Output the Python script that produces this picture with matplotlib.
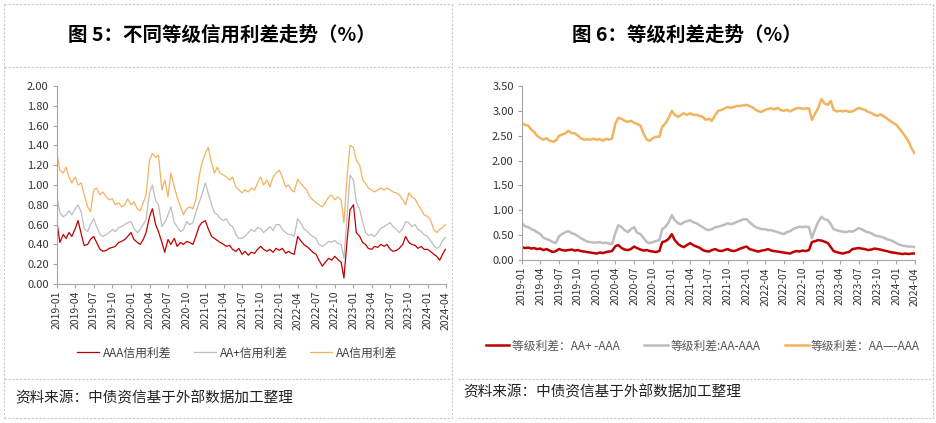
import pandas as pd
import matplotlib
matplotlib.use("Agg")
import matplotlib.pyplot as plt
import matplotlib.dates as mdates
from matplotlib.lines import Line2D

plt.rcParams['font.family'] = ['Noto Sans CJK SC', 'DejaVu Sans']

# semi-monthly observation dates (1st and 15th), last point end of March 2024
dates = list(pd.date_range('2019-01-01', '2024-03-15', freq='SMS')) + [pd.Timestamp('2024-03-29')]

# Fig 5: credit spreads by rating (%)
aaa_spread = [
    0.62, 0.42, 0.50, 0.46, 0.52, 0.48, 0.56, 0.64, 0.50, 0.39, 0.40, 0.45, 0.48, 0.42, 0.35, 0.33, 0.34, 0.36, 0.37, 0.38, 0.42, 0.43, 0.45, 0.48,
    0.52, 0.45, 0.42, 0.40, 0.45, 0.52, 0.68, 0.76, 0.60, 0.53, 0.42, 0.32, 0.45, 0.40, 0.46, 0.38, 0.42, 0.40, 0.43, 0.42, 0.40, 0.48, 0.58, 0.62,
    0.64, 0.56, 0.48, 0.46, 0.44, 0.42, 0.40, 0.38, 0.39, 0.35, 0.33, 0.36, 0.30, 0.33, 0.29, 0.32, 0.31, 0.35, 0.38, 0.35, 0.33, 0.35, 0.32, 0.36,
    0.34, 0.36, 0.31, 0.33, 0.31, 0.30, 0.48, 0.44, 0.40, 0.38, 0.35, 0.32, 0.30, 0.24, 0.18, 0.22, 0.26, 0.24, 0.28, 0.25, 0.22, 0.06, 0.45, 0.75,
    0.80, 0.52, 0.48, 0.42, 0.40, 0.36, 0.35, 0.38, 0.37, 0.40, 0.38, 0.40, 0.35, 0.33, 0.34, 0.36, 0.40, 0.48, 0.42, 0.40, 0.39, 0.36, 0.38, 0.35,
    0.35, 0.33, 0.30, 0.28, 0.24, 0.30, 0.35]
aap_spread = [
    0.88, 0.72, 0.68, 0.70, 0.74, 0.70, 0.76, 0.80, 0.72, 0.56, 0.53, 0.60, 0.66, 0.58, 0.50, 0.48, 0.50, 0.52, 0.55, 0.53, 0.57, 0.58, 0.60, 0.62,
    0.63, 0.56, 0.52, 0.55, 0.60, 0.65, 0.92, 1.00, 0.84, 0.80, 0.58, 0.62, 0.70, 0.78, 0.62, 0.58, 0.53, 0.55, 0.63, 0.60, 0.62, 0.72, 0.82, 0.90,
    1.02, 0.92, 0.80, 0.72, 0.70, 0.66, 0.64, 0.66, 0.60, 0.58, 0.50, 0.46, 0.46, 0.48, 0.52, 0.55, 0.53, 0.57, 0.56, 0.52, 0.55, 0.58, 0.54, 0.60,
    0.60, 0.55, 0.52, 0.50, 0.50, 0.48, 0.66, 0.62, 0.56, 0.54, 0.50, 0.48, 0.46, 0.40, 0.38, 0.40, 0.43, 0.42, 0.44, 0.41, 0.40, 0.26, 0.70, 1.10,
    1.05, 0.83, 0.75, 0.63, 0.52, 0.49, 0.50, 0.48, 0.52, 0.56, 0.58, 0.60, 0.62, 0.58, 0.55, 0.52, 0.56, 0.63, 0.62, 0.58, 0.60, 0.55, 0.53, 0.50,
    0.48, 0.44, 0.39, 0.36, 0.38, 0.44, 0.47]
aa_spread = [
    1.32, 1.15, 1.12, 1.18, 1.08, 1.02, 1.08, 1.00, 1.02, 0.90, 0.78, 0.73, 0.95, 0.97, 0.90, 0.93, 0.88, 0.85, 0.86, 0.80, 0.82, 0.78, 0.80, 0.86,
    0.80, 0.83, 0.76, 0.74, 0.82, 0.90, 1.25, 1.32, 1.28, 1.30, 0.95, 1.05, 0.88, 1.12, 0.98, 0.88, 0.78, 0.70, 0.76, 0.78, 0.76, 0.85, 1.08, 1.22,
    1.32, 1.38, 1.22, 1.12, 1.18, 1.12, 1.10, 1.08, 1.05, 1.08, 0.98, 0.95, 0.92, 0.95, 0.93, 0.97, 0.95, 1.02, 1.08, 1.00, 1.05, 0.98, 1.08, 1.12,
    1.15, 1.08, 0.98, 1.00, 0.95, 0.93, 1.06, 1.02, 0.98, 0.95, 0.88, 0.85, 0.82, 0.80, 0.78, 0.82, 0.88, 0.90, 0.85, 0.88, 0.85, 0.62, 1.10, 1.40,
    1.38, 1.25, 1.20, 1.05, 1.02, 0.97, 0.95, 0.93, 0.95, 0.97, 0.95, 0.97, 0.95, 0.93, 0.92, 0.90, 0.85, 0.80, 0.92, 0.88, 0.86, 0.80, 0.75, 0.70,
    0.68, 0.65, 0.55, 0.52, 0.55, 0.57, 0.60]

# Fig 6: rating spreads (%)
gap_aap_aaa = [
    0.26, 0.24, 0.25, 0.23, 0.24, 0.22, 0.23, 0.20, 0.22, 0.19, 0.16, 0.18, 0.22, 0.20, 0.19, 0.20, 0.21, 0.19, 0.20, 0.18, 0.17, 0.16, 0.15, 0.14,
    0.13, 0.15, 0.14, 0.16, 0.17, 0.18, 0.28, 0.30, 0.24, 0.21, 0.20, 0.22, 0.27, 0.24, 0.21, 0.19, 0.20, 0.18, 0.17, 0.16, 0.18, 0.36, 0.38, 0.42,
    0.52, 0.40, 0.32, 0.28, 0.26, 0.30, 0.34, 0.30, 0.27, 0.25, 0.20, 0.18, 0.17, 0.20, 0.22, 0.19, 0.18, 0.20, 0.22, 0.19, 0.18, 0.20, 0.23, 0.25,
    0.27, 0.22, 0.20, 0.18, 0.17, 0.19, 0.20, 0.22, 0.19, 0.18, 0.17, 0.16, 0.15, 0.14, 0.13, 0.16, 0.18, 0.17, 0.19, 0.18, 0.20, 0.36, 0.38, 0.40,
    0.39, 0.37, 0.34, 0.26, 0.18, 0.16, 0.14, 0.13, 0.15, 0.16, 0.22, 0.23, 0.24, 0.23, 0.22, 0.20, 0.21, 0.23, 0.22, 0.21, 0.19, 0.18, 0.16, 0.15,
    0.14, 0.13, 0.12, 0.13, 0.12, 0.13, 0.13]
gap_aa_aaa = [
    0.74, 0.68, 0.66, 0.62, 0.60, 0.56, 0.52, 0.45, 0.42, 0.40, 0.36, 0.34, 0.48, 0.52, 0.56, 0.58, 0.54, 0.52, 0.48, 0.44, 0.40, 0.37, 0.36, 0.35,
    0.35, 0.36, 0.34, 0.35, 0.33, 0.32, 0.55, 0.70, 0.66, 0.60, 0.56, 0.62, 0.66, 0.55, 0.52, 0.45, 0.36, 0.34, 0.36, 0.38, 0.40, 0.62, 0.67, 0.75,
    0.90, 0.80, 0.74, 0.72, 0.76, 0.78, 0.80, 0.76, 0.74, 0.70, 0.66, 0.62, 0.60, 0.62, 0.66, 0.67, 0.69, 0.71, 0.74, 0.72, 0.74, 0.77, 0.79, 0.82,
    0.82, 0.76, 0.70, 0.66, 0.64, 0.62, 0.62, 0.60, 0.60, 0.58, 0.56, 0.54, 0.52, 0.56, 0.58, 0.62, 0.65, 0.67, 0.66, 0.67, 0.66, 0.44, 0.62, 0.76,
    0.87, 0.82, 0.80, 0.72, 0.62, 0.60, 0.58, 0.57, 0.56, 0.58, 0.57, 0.60, 0.64, 0.62, 0.58, 0.56, 0.54, 0.50, 0.48, 0.47, 0.45, 0.42, 0.40, 0.38,
    0.34, 0.31, 0.29, 0.28, 0.27, 0.27, 0.26]
gap_aam_aaa = [
    2.75, 2.72, 2.70, 2.62, 2.58, 2.50, 2.45, 2.42, 2.45, 2.40, 2.38, 2.40, 2.50, 2.52, 2.55, 2.60, 2.55, 2.55, 2.50, 2.45, 2.42, 2.43, 2.42, 2.44,
    2.42, 2.43, 2.40, 2.44, 2.42, 2.44, 2.75, 2.86, 2.84, 2.80, 2.78, 2.80, 2.76, 2.74, 2.70, 2.55, 2.42, 2.40, 2.45, 2.48, 2.48, 2.68, 2.75, 2.85,
    3.00, 2.92, 2.88, 2.92, 2.95, 2.92, 2.95, 2.92, 2.92, 2.90, 2.88, 2.82, 2.84, 2.80, 2.92, 3.00, 3.02, 3.05, 3.08, 3.06, 3.08, 3.10, 3.10, 3.11,
    3.12, 3.10, 3.06, 3.02, 2.99, 2.98, 3.02, 3.04, 3.05, 3.03, 3.06, 3.02, 3.00, 3.02, 2.99, 3.02, 3.05, 3.06, 3.04, 3.05, 3.05, 2.82, 2.95, 3.05,
    3.24, 3.15, 3.12, 3.20, 3.02, 2.99, 3.00, 2.99, 3.00, 2.98, 2.99, 3.02, 3.06, 3.04, 3.02, 2.98, 2.96, 2.92, 2.90, 2.93, 2.89, 2.85, 2.80, 2.76,
    2.72, 2.65, 2.56, 2.48, 2.38, 2.25, 2.15]

left_labels = ['AAA信用利差', 'AA+信用利差', 'AA信用利差']
right_labels = ['等级利差：AA+ -AAA', '等级利差:AA-AAA', '等级利差：AA—-AAA']
colors = ['#C00000', '#BDBDBD', '#F2B35E']
tick_dates = pd.date_range('2019-01-01', '2024-04-01', freq='QS')

fig = plt.figure(figsize=(9.37, 4.23), dpi=100)

# panel frames (dashed)
W, H = 937, 423
def hline(y, x0, x1):
    fig.add_artist(Line2D([x0 / W, x1 / W], [1 - y / H, 1 - y / H], color='#C8C8C8', lw=0.8, ls=(0, (2, 1.5))))
def vline(x, y0, y1):
    fig.add_artist(Line2D([x / W, x / W], [1 - y0 / H, 1 - y1 / H], color='#C8C8C8', lw=0.8, ls=(0, (2, 1.5))))
for y in (4, 67, 379, 418):
    hline(y, 4, 452)
    hline(y, 458, 933)
for x in (4, 452, 933):
    vline(x, 4, 418)

fig.text(222 / W, 1 - 35 / H, '图 5：不同等级信用利差走势（%）', ha='center', va='center', fontsize=14, fontweight='bold')
fig.text(687 / W, 1 - 35 / H, '图 6：等级利差走势（%）', ha='center', va='center', fontsize=14, fontweight='bold')
fig.text(15 / W, 1 - 398 / H, '资料来源：中债资信基于外部数据加工整理', ha='left', va='center', fontsize=10.5, color='#222222')
fig.text(463 / W, 1 - 392 / H, '资料来源：中债资信基于外部数据加工整理', ha='left', va='center', fontsize=10.5, color='#222222')

ax1 = fig.add_axes([57 / W, 1 - 284 / H, 389 / W, 198 / H])
ax2 = fig.add_axes([522 / W, 1 - 260 / H, 393 / W, 174 / H])

for s, lab, c in zip([aaa_spread, aap_spread, aa_spread], left_labels, colors):
    ax1.plot(dates, s, color=c, lw=0.9, label=lab)
for s, lab, c in zip([gap_aap_aaa, gap_aa_aaa, gap_aam_aaa], right_labels, colors):
    ax2.plot(dates, s, color=c, lw=1.8, label=lab)

ax1.set_ylim(0, 2.0)
ax1.set_yticks([i * 0.2 for i in range(11)])
ax2.set_ylim(0, 3.5)
ax2.set_yticks([i * 0.5 for i in range(8)])

for ax in (ax1, ax2):
    ax.set_xlim(pd.Timestamp('2019-01-01'), pd.Timestamp('2024-04-01'))
    ax.set_xticks(tick_dates)
    ax.xaxis.set_major_formatter(mdates.DateFormatter('%Y-%m'))
    ax.yaxis.set_major_formatter(matplotlib.ticker.FormatStrFormatter('%.2f'))
    for sp in ('top', 'right'):
        ax.spines[sp].set_visible(False)
    for sp in ('left', 'bottom'):
        ax.spines[sp].set_color('#A6A6A6')
        ax.spines[sp].set_linewidth(0.8)
    ax.tick_params(axis='x', rotation=90, labelsize=7.5, length=3, color='#A6A6A6', labelcolor='#333333', pad=2)
    ax.tick_params(axis='y', labelsize=8, length=3, color='#A6A6A6', labelcolor='#333333', pad=3)

fig.legend(*ax1.get_legend_handles_labels(), loc='center', bbox_to_anchor=(237 / W, 1 - 353 / H), ncol=3,
           frameon=False, fontsize=8.5, handlelength=1.9, handletextpad=0.3, columnspacing=1.9,
           labelcolor='#404040')
fig.legend(*ax2.get_legend_handles_labels(), loc='center', bbox_to_anchor=(703 / W, 1 - 346 / H), ncol=3,
           frameon=False, fontsize=8.5, handlelength=2.0, handletextpad=0.2, columnspacing=2.1,
           labelcolor='#555555')

fig.savefig('out.png', dpi=100)
